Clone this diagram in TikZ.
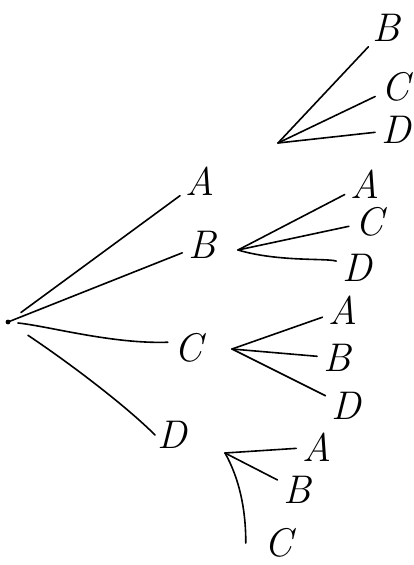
\documentclass[tikz,border=0pt]{standalone}
\usepackage{fontspec}
\usetikzlibrary{positioning}
\begin{document}
\begin{tikzpicture}[
    x=1pt, y=-1pt,
    line cap=round,
    letter/.style={font=\fontsize{40}{44}\selectfont\itshape, inner sep=2pt},
    branch/.style={draw, line width=1.6pt, shorten >=4pt},
]
\useasboundingbox (0,0) rectangle (413,565);

% =========================================================
% Root and first level
% =========================================================
\coordinate (root) at (8,322);
\fill (root) circle (2.4pt);

\node[letter] (a) at (200,181) {A};
\node[letter] (b) at (202,245) {B};
\node[letter] (c) at (188,348) {C};
\node[letter] (d) at (172,435) {D};

\draw[branch, shorten <=16pt] (root) -- (a);
\draw[branch] (root) -- (b);
\draw[branch, shorten <=10pt] (root) .. controls +(40,4) and +(-60,2) .. (c.160);
\draw[branch, shorten <=24pt, shorten >=0pt] (root) .. controls +(60,40) and +(-30,-30) .. (d.west);

% =========================================================
% Second level: forks
% =========================================================
\coordinate (forkA) at (278,143);
\coordinate (forkB) at (238,250);
\coordinate (forkC) at (232,349);
\coordinate (forkD) at (225,453);

% under A
\node[letter] (ab) at (386,28)  {B};
\node[letter] (ac) at (395,87)  {C};
\node[letter] (ad) at (396,130) {D};
\draw[branch] (forkA) -- (ab);
\draw[branch] (forkA) -- (ac);
\draw[branch] (forkA) -- (ad);

% under B
\node[letter] (ba) at (365,184) {A};
\node[letter] (bc) at (369,222) {C};
\node[letter] (bd) at (357,268) {D};
\draw[branch] (forkB) -- (ba);
\draw[branch] (forkB) -- (bc);
\draw[branch] (forkB) .. controls +(40,12) and +(-30,-10) .. (bd);

% under C
\node[letter] (ca) at (343,310) {A};
\node[letter] (cb) at (337,358) {B};
\node[letter] (cd) at (346,406) {D};
\draw[branch] (forkC) -- (ca);
\draw[branch] (forkC) -- (cb);
\draw[branch] (forkC) -- (cd);

% under D
\node[letter] (da) at (317,447) {A};
\node[letter] (db) at (297,490) {B};
\node[letter] (dc) at (278,543) {C};
\draw[branch] (forkD) -- (da);
\draw[branch] (forkD) -- (db);
\draw[branch, shorten >=0pt] (forkD) .. controls +(14,25) and +(0,-35) .. ([xshift=-16pt]dc.west);

\end{tikzpicture}
\end{document}
